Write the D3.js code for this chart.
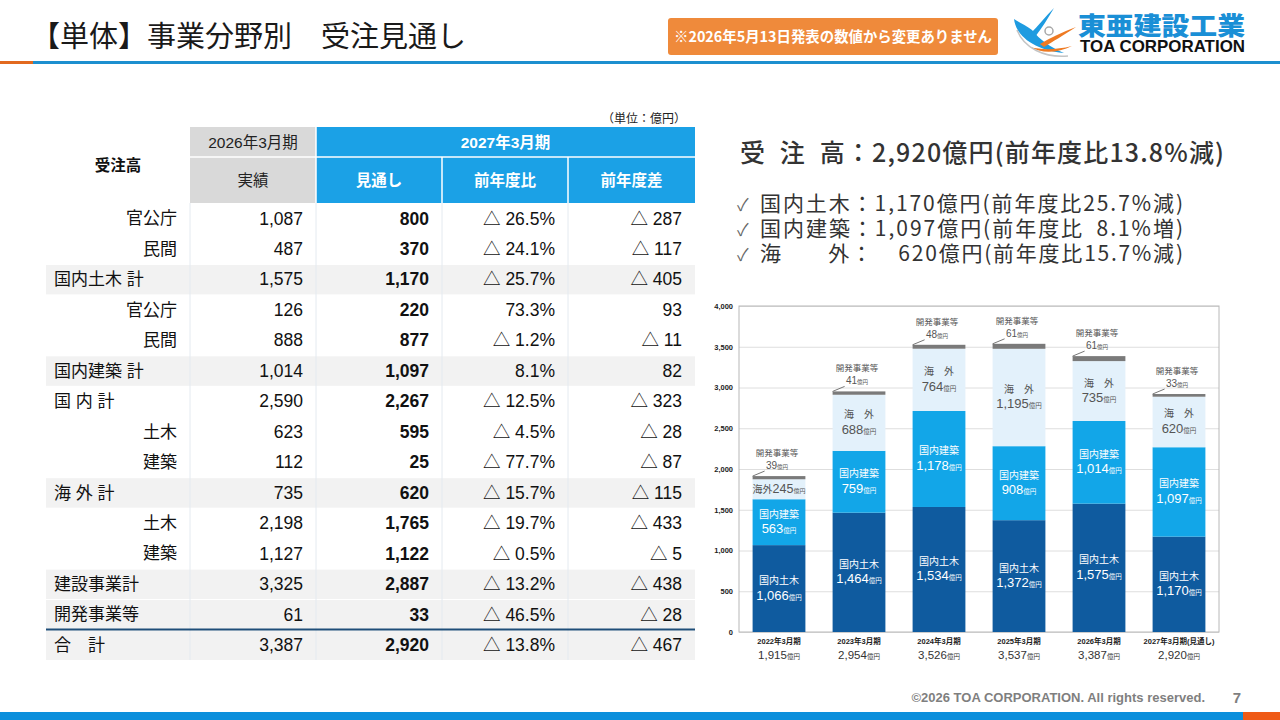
<!DOCTYPE html>
<html lang="ja">
<head>
<meta charset="utf-8">
<title>【単体】事業分野別 受注見通し</title>
<script src="https://cdn.jsdelivr.net/npm/d3@7"></script>
<style>
  body { margin: 0; background: #fff; }
  svg { display: block; }
  text { font-family: "Liberation Sans", Arial, "Noto Sans CJK JP", sans-serif; }
  .jp { font-family: "Noto Sans CJK JP", "Noto Sans", sans-serif; }
  .num { font-family: "Liberation Sans", Arial, sans-serif; }
</style>
</head>
<body>
<div id="slide"></div>
<script>
// ---- table data (単位：億円) ----
var rowLabels = ["官公庁", "民間", "国内土木 計", "官公庁", "民間", "国内建築 計", "国 内 計",
  "土木", "建築", "海 外 計", "土木", "建築", "建設事業計", "開発事業等", "合　計"];
// sub = indented detail row, total = shaded subtotal, group = unshaded subtotal, grand = grand total
var rowKinds = ["sub", "sub", "total", "sub", "sub", "total", "group",
  "sub", "sub", "total", "sub", "sub", "total", "total", "grand"];
var actual2026 = [1087, 487, 1575, 126, 888, 1014, 2590, 623, 112, 735, 2198, 1127, 3325, 61, 3387];
var forecast2027 = [800, 370, 1170, 220, 877, 1097, 2267, 595, 25, 620, 1765, 1122, 2887, 33, 2920];
var yoyRatio = [-26.5, -24.1, -25.7, 73.3, -1.2, 8.1, -12.5, -4.5, -77.7, -15.7, -19.7, -0.5, -13.2, -46.5, -13.8];
var yoyDiff = [-287, -117, -405, 93, -11, 82, -323, -28, -87, -115, -433, -5, -438, -28, -467];

// ---- chart data (億円) ----
var fiscalYears = ["2022年3月期", "2023年3月期", "2024年3月期", "2025年3月期", "2026年3月期", "2027年3月期(見通し)"];
var domesticCivil = [1066, 1464, 1534, 1372, 1575, 1170];
var domesticBuilding = [563, 759, 1178, 908, 1014, 1097];
var overseas = [245, 688, 764, 1195, 735, 620];
var development = [39, 41, 48, 61, 61, 33];
var yearTotals = [1915, 2954, 3526, 3537, 3387, 2920];
var yTicks = [0, 500, 1000, 1500, 2000, 2500, 3000, 3500, 4000];

var fmtNum = d3.format(",");

var svg = d3.select("#slide")
  .append("svg")
  .attr("width", 1280)
  .attr("height", 720);

// ---------- header ----------
svg.append("text")
  .attr("class", "jp")
  .attr("x", 31)
  .attr("y", 47)
  .attr("font-size", 29)
  .attr("fill", "#1a1a1a")
  .text("【単体】事業分野別　受注見通し");

svg.append("rect").attr("x", 0).attr("y", 61).attr("width", 33).attr("height", 3).attr("fill", "#e2691f");
svg.append("rect").attr("x", 33).attr("y", 61).attr("width", 1247).attr("height", 3).attr("fill", "#1d8fcf");

// notice box
svg.append("rect")
  .attr("x", 668).attr("y", 18)
  .attr("width", 330).attr("height", 37)
  .attr("rx", 3)
  .attr("fill", "#ef8a3b");
svg.append("text")
  .attr("class", "jp")
  .attr("x", 674).attr("y", 42)
  .attr("font-size", 14.5)
  .attr("font-weight", 700)
  .attr("fill", "#fff")
  .attr("textLength", 318)
  .attr("lengthAdjust", "spacingAndGlyphs")
  .text("※2026年5月13日発表の数値から変更ありません");

// logo (rough swoosh + wordmark)
var logo = svg.append("g");
logo.append("path")
  .attr("d", "M1014,19 C1016,36 1034,50 1064,53 C1050,47 1040,40 1032,30 C1027,26 1020,23 1014,19 Z")
  .attr("fill", "#1e9be0");
logo.append("path")
  .attr("d", "M1030,34 C1038,26 1046,16 1054,8 C1048,18 1042,28 1035,37 Z")
  .attr("fill", "#1e9be0");
logo.append("path")
  .attr("d", "M1040,44 C1050,38 1062,32 1076,27 C1064,35 1052,42 1044,47 Z")
  .attr("fill", "#ee7a23");
logo.append("path")
  .attr("d", "M1030,47 C1042,50 1056,50 1072,46 C1058,53 1042,54 1030,47 Z")
  .attr("fill", "#ee7a23");
logo.append("path")
  .attr("d", "M1017,30 C1024,48 1044,58 1068,56")
  .attr("fill", "none").attr("stroke", "#c4c4c4").attr("stroke-width", 1.5);
logo.append("circle")
  .attr("cx", 1049).attr("cy", 31).attr("r", 4)
  .attr("fill", "#fff").attr("stroke", "#a8a8a8").attr("stroke-width", 1.5);
// wordmark as one text element, two lines
var mark = logo.append("text")
  .attr("class", "jp")
  .attr("x", 1078).attr("y", 35);
mark.append("tspan")
  .attr("font-size", 25)
  .attr("font-weight", 900)
  .attr("fill", "#1a8fd6")
  .attr("textLength", 167)
  .attr("lengthAdjust", "spacingAndGlyphs")
  .text("東亜建設工業");
mark.append("tspan")
  .attr("x", 1080).attr("dy", 17)
  .attr("font-family", "'Liberation Sans', Arial, sans-serif")
  .attr("font-size", 16.5)
  .attr("font-weight", 700)
  .attr("fill", "#111")
  .attr("textLength", 165)
  .attr("lengthAdjust", "spacingAndGlyphs")
  .text("TOA CORPORATION");

// ---------- table ----------
var colEdges = [46, 190, 316, 442, 568, 695];
var headTop = 127, headMid = 157, headBottom = 203;
var table = svg.append("g");

table.append("text")
  .attr("class", "jp")
  .attr("x", 686).attr("y", 123)
  .attr("text-anchor", "end")
  .attr("font-size", 12)
  .attr("fill", "#222")
  .text("（単位：億円）");

// header cells
table.append("rect")
  .attr("x", colEdges[1]).attr("y", headTop)
  .attr("width", colEdges[2] - colEdges[1]).attr("height", headBottom - headTop)
  .attr("fill", "#d9d9d9");
table.append("rect")
  .attr("x", colEdges[2]).attr("y", headTop)
  .attr("width", colEdges[5] - colEdges[2]).attr("height", headBottom - headTop)
  .attr("fill", "#1ba1e6");
table.append("line")
  .attr("x1", colEdges[1]).attr("x2", colEdges[5])
  .attr("y1", headMid).attr("y2", headMid)
  .attr("stroke", "#fff").attr("stroke-width", 1.5);
table.append("line")
  .attr("x1", colEdges[2]).attr("x2", colEdges[2])
  .attr("y1", headTop).attr("y2", headBottom)
  .attr("stroke", "#fff").attr("stroke-width", 1.5);
[3, 4].forEach(function(c) {
  table.append("line")
    .attr("x1", colEdges[c]).attr("x2", colEdges[c])
    .attr("y1", headMid).attr("y2", headBottom)
    .attr("stroke", "#fff").attr("stroke-width", 1.5);
});

function headText(x, y, txt, color, weight) {
  table.append("text")
    .attr("x", x).attr("y", y)
    .attr("dy", "0.36em")
    .attr("text-anchor", "middle")
    .attr("font-size", 15.5)
    .attr("font-weight", weight)
    .attr("fill", color)
    .text(txt);
}
var mid = function(c) { return (colEdges[c] + colEdges[c + 1]) / 2; };
headText(mid(0), (headTop + headBottom) / 2, "受注高", "#111", 700);
headText(mid(1), (headTop + headMid) / 2, "2026年3月期", "#222", 400);
headText(mid(1), (headMid + headBottom) / 2, "実績", "#222", 400);
headText((colEdges[2] + colEdges[5]) / 2, (headTop + headMid) / 2, "2027年3月期", "#fff", 700);
headText(mid(2), (headMid + headBottom) / 2, "見通し", "#fff", 700);
headText(mid(3), (headMid + headBottom) / 2, "前年度比", "#fff", 700);
headText(mid(4), (headMid + headBottom) / 2, "前年度差", "#fff", 700);

// body rows
var rowY = d3.scaleBand()
  .domain(d3.range(rowLabels.length))
  .range([headBottom, 660]);
var rowH = rowY.bandwidth();

var rows = table.selectAll("g.row")
  .data(rowLabels.map(function(label, i) {
    return {
      label: label,
      kind: rowKinds[i],
      actual: actual2026[i],
      forecast: forecast2027[i],
      ratio: yoyRatio[i],
      diff: yoyDiff[i],
      i: i
    };
  }))
  .enter()
  .append("g")
  .attr("class", "row")
  .attr("transform", d => `translate(0, ${rowY(d.i)})`);

rows.filter(d => d.kind === "total" || d.kind === "grand")
  .append("rect")
  .attr("x", colEdges[0]).attr("y", 1)
  .attr("width", colEdges[5] - colEdges[0]).attr("height", rowH - 1)
  .attr("fill", "#f2f2f2");

// faint column separators
[1, 2, 3, 4].forEach(function(c) {
  table.append("line")
    .attr("x1", colEdges[c]).attr("x2", colEdges[c])
    .attr("y1", headBottom).attr("y2", 660)
    .attr("stroke", "#e4eaf0").attr("stroke-width", 1);
});

// dark line above grand total
table.append("line")
  .attr("x1", colEdges[0]).attr("x2", colEdges[5])
  .attr("y1", rowY(rowLabels.length - 1)).attr("y2", rowY(rowLabels.length - 1))
  .attr("stroke", "#1f4e79").attr("stroke-width", 2);

rows.append("text")
  .attr("x", d => d.kind === "sub" ? 177 : 54)
  .attr("y", rowH / 2)
  .attr("dy", "0.36em")
  .attr("text-anchor", d => d.kind === "sub" ? "end" : "start")
  .attr("font-size", 17)
  .attr("fill", "#111")
  .style("white-space", "pre")
  .text(d => d.label);

function tri(v, s) { return v < 0 ? "△ " + s : s; }

var cellDefs = [
  {col: 1, fmt: d => fmtNum(d.actual), bold: false},
  {col: 2, fmt: d => fmtNum(d.forecast), bold: true},
  {col: 3, fmt: d => tri(d.ratio, d3.format(".1f")(Math.abs(d.ratio)) + "%"), bold: false},
  {col: 4, fmt: d => tri(d.diff, fmtNum(Math.abs(d.diff))), bold: false}
];
cellDefs.forEach(function(cd) {
  rows.append("text")
    .attr("x", colEdges[cd.col + 1] - 13)
    .attr("y", rowH / 2)
    .attr("dy", "0.36em")
    .attr("text-anchor", "end")
    .attr("font-size", 17.5)
    .attr("font-weight", cd.bold ? 700 : 400)
    .attr("fill", "#111")
    .text(cd.fmt);
});

// ---------- summary text ----------
svg.append("text")
  .attr("class", "jp")
  .attr("x", 740).attr("y", 162)
  .attr("font-size", 25)
  .attr("font-weight", 500)
  .attr("fill", "#333")
  .attr("textLength", 484)
  .attr("lengthAdjust", "spacing")
  .style("white-space", "pre")
  .text("受\u2002注\u2002高：2,920億円(前年度比13.8%減)");

var bullets = [
  "国内土木：1,170億円(前年度比25.7%減)",
  "国内建築：1,097億円(前年度比\u20028.1%増)",
  "海　　外：\u2002\u2002620億円(前年度比15.7%減)"
];
var bulletBlock = svg.append("text")
  .attr("class", "jp")
  .attr("fill", "#333")
  .style("white-space", "pre");
bullets.forEach(function(b, i) {
  bulletBlock.append("tspan")
    .attr("x", 737).attr("y", 211 + i * 25)
    .attr("font-size", 17)
    .attr("fill", "#666")
    .text("✓\u2002");
  bulletBlock.append("tspan")
    .attr("x", 760)
    .attr("font-size", 21)
    .attr("textLength", 423)
    .attr("lengthAdjust", "spacing")
    .text(b);
});

// ---------- stacked bar chart ----------
var plot = {left: 739, right: 1219, top: 306, bottom: 632};

var x = d3.scaleBand()
  .domain(fiscalYears)
  .range([plot.left, plot.right])
  .paddingInner(0.34)
  .paddingOuter(0.17);

var y = d3.scaleLinear()
  .domain([0, 4000])
  .range([plot.bottom, plot.top]);

var chart = svg.append("g");

// gridlines + y tick labels
var leftAxis = d3.axisLeft(y)
  .tickValues(yTicks)
  .tickSize(-(plot.right - plot.left))
  .tickPadding(6)
  .tickFormat(d3.format(","));

var yAxis = chart.append("g")
  .attr("transform", `translate(${plot.left}, 0)`)
  .call(leftAxis);
yAxis.select(".domain").remove();
yAxis.selectAll(".tick line").attr("stroke", "#dedede");
yAxis.selectAll(".tick text")
  .attr("font-family", "'Liberation Sans', Arial, sans-serif")
  .attr("font-size", 7.5)
  .attr("font-weight", 700)
  .attr("fill", "#222");

chart.append("rect")
  .attr("x", plot.left).attr("y", plot.top)
  .attr("width", plot.right - plot.left).attr("height", plot.bottom - plot.top)
  .attr("fill", "none")
  .attr("stroke", "#b8b8b8");

var stackRows = fiscalYears.map(function(fy, i) {
  return {
    fy: fy,
    civil: domesticCivil[i],
    building: domesticBuilding[i],
    overseas: overseas[i],
    dev: development[i]
  };
});
var series = d3.stack()
  .keys(["civil", "building", "overseas", "dev"])(stackRows);

var segColors = {civil: "#0f5b9f", building: "#12a6e8", overseas: "#e3f1fb", dev: "#7a7a7a"};
var segNames = {civil: "国内土木", building: "国内建築", overseas: "海　外"};
var segText = {civil: "#fff", building: "#fff", overseas: "#555"};

var layers = chart.selectAll("g.layer")
  .data(series)
  .enter()
  .append("g")
  .attr("class", "layer")
  .attr("fill", d => segColors[d.key]);

layers.selectAll("rect")
  .data(d => d)
  .enter()
  .append("rect")
  .attr("x", d => x(d.data.fy))
  .attr("y", d => y(d[1]))
  .attr("width", x.bandwidth())
  .attr("height", d => y(d[0]) - y(d[1]));

// labels inside segments (name line + value line in one text element)
series.filter(s => s.key !== "dev").forEach(function(s) {
  s.forEach(function(d) {
    var cx = x(d.data.fy) + x.bandwidth() / 2;
    var c = (y(d[0]) + y(d[1])) / 2;
    var h = y(d[0]) - y(d[1]);
    var v = d.data[s.key];
    var t = chart.append("text")
      .attr("class", "jp")
      .attr("text-anchor", "middle")
      .attr("fill", segText[s.key]);
    if (h < 28) {
      t.attr("x", cx).attr("y", c + 4);
      t.append("tspan").attr("font-size", 10).text("海外");
      t.append("tspan").attr("class", "num").attr("font-size", 12.5).text(fmtNum(v));
      t.append("tspan").attr("font-size", 6).text("億円");
    } else {
      t.append("tspan")
        .attr("x", cx).attr("y", c - 4.5)
        .attr("font-size", 10)
        .text(segNames[s.key]);
      t.append("tspan")
        .attr("class", "num")
        .attr("x", cx).attr("y", c + 11)
        .attr("font-size", 13)
        .text(fmtNum(v));
      t.append("tspan").attr("font-size", 6.5).text("億円");
    }
  });
});

// development caps: leader line and label above the bar
series.filter(s => s.key === "dev")[0].forEach(function(d) {
  var x0 = x(d.data.fy);
  var cx = x0 + x.bandwidth() / 2;
  var top = y(d[1]);
  chart.append("line")
    .attr("x1", x0).attr("y1", top)
    .attr("x2", x0 + 12).attr("y2", top - 5)
    .attr("stroke", "#777").attr("stroke-width", 1);
  var lab = chart.append("text")
    .attr("class", "jp")
    .attr("text-anchor", "middle")
    .attr("fill", "#555");
  lab.append("tspan")
    .attr("x", cx - 2).attr("y", top - 20)
    .attr("font-size", 8.5)
    .text("開発事業等");
  lab.append("tspan")
    .attr("class", "num")
    .attr("x", cx - 2).attr("y", top - 7)
    .attr("font-size", 10)
    .text(fmtNum(d.data.dev));
  lab.append("tspan")
    .attr("font-size", 5.5)
    .text("億円");
});

// category labels with totals
fiscalYears.forEach(function(fy, i) {
  var cx = x(fy) + x.bandwidth() / 2;
  var cat = chart.append("text")
    .attr("text-anchor", "middle")
    .attr("fill", "#222");
  cat.append("tspan")
    .attr("x", cx).attr("y", plot.bottom + 12)
    .attr("font-size", 7.5)
    .attr("font-weight", 700)
    .text(fy);
  cat.append("tspan")
    .attr("class", "num")
    .attr("x", cx).attr("y", plot.bottom + 27)
    .attr("font-size", 11.5)
    .attr("fill", "#333")
    .text(fmtNum(yearTotals[i]));
  cat.append("tspan")
    .attr("class", "jp")
    .attr("font-size", 6.5)
    .attr("fill", "#333")
    .text("億円");
});

// ---------- footer ----------
svg.append("text")
  .attr("x", 1205).attr("y", 702)
  .attr("text-anchor", "end")
  .attr("font-size", 13)
  .attr("font-weight", 700)
  .attr("fill", "#7f7f7f")
  .text("©2026 TOA CORPORATION. All rights reserved.");
svg.append("text")
  .attr("x", 1237).attr("y", 703)
  .attr("text-anchor", "middle")
  .attr("font-size", 15)
  .attr("font-weight", 700)
  .attr("fill", "#7f7f7f")
  .text("7");
svg.append("rect").attr("x", 0).attr("y", 712).attr("width", 1243).attr("height", 8).attr("fill", "#0b8fdc");
svg.append("rect").attr("x", 1243).attr("y", 712).attr("width", 37).attr("height", 8).attr("fill", "#ef5a16");
</script>
</body>
</html>
